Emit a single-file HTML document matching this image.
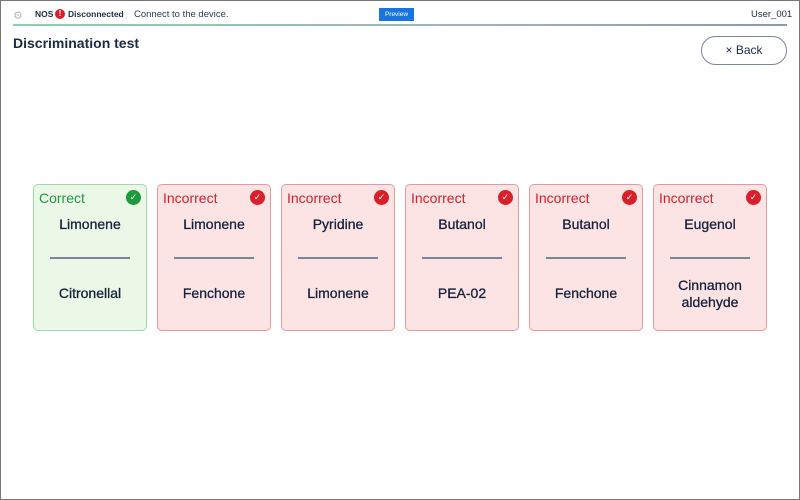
<!DOCTYPE html>
<html><head><meta charset="utf-8"><style>
*{margin:0;padding:0;box-sizing:border-box}
body{width:800px;height:500px;background:#fff;font-family:"Liberation Sans",sans-serif;position:relative;overflow:hidden;color:#1c2b45}
.frame{position:absolute;left:0;top:0;width:800px;height:500px;border:1px solid #777}
.hdr{position:absolute;left:13px;top:24px;width:774px;height:2px;background:linear-gradient(90deg,#8fd0a8,#9fb3b8 60%,#8a9aa8)}
.t{position:absolute;white-space:nowrap}
.card{position:absolute;top:184px;width:114px;height:147px;border-radius:5px;border:1px solid #e39a9a;background:#fde4e4}
.card.ok{border-color:#9ed8a8;background:#ebf7e7}
.card .h{position:absolute;left:5px;top:5px;font-size:14px;color:#d2222a}
.card.ok .h{color:#1e9a3e}
.card .ic{position:absolute;right:5px;top:5px;width:15px;height:15px;border-radius:50%;background:#d8202a;color:#fff;font-size:9px;text-align:center;line-height:15px}
.card.ok .ic{background:#1e9a3e}
.card .a{position:absolute;left:0;right:0;top:31px;text-align:center;font-size:14px;color:#14223c;-webkit-text-stroke:0.3px #14223c}
.card .ln{position:absolute;left:16px;right:16px;top:72px;height:2px;background:#7a8799}
.card .b{position:absolute;left:0;right:0;top:100px;text-align:center;font-size:14px;line-height:17px;color:#14223c;-webkit-text-stroke:0.3px #14223c}
</style></head><body>
<div class="frame"></div>
<div class="t" style="left:13px;top:9px;font-size:11px;color:#bbb">⚙</div>
<div class="t" style="left:35px;top:9px;font-size:8.5px;font-weight:bold">NOS</div>
<div class="t" style="left:55px;top:9px;width:10px;height:10px;border-radius:50%;background:#d8202a;color:#fff;font-size:8px;text-align:center;line-height:10px;font-weight:bold">!</div>
<div class="t" style="left:68px;top:9px;font-size:8.5px;font-weight:bold">Disconnected</div>
<div class="t" style="left:125px;top:9px;font-size:9px;color:#ddd">|</div>
<div class="t" style="left:134px;top:9px;font-size:9.5px;color:#2a3a55">Connect to the device.</div>
<div class="t" style="left:379px;top:8px;width:35px;height:13px;background:#1a74e0;color:#fff;font-size:6.5px;text-align:center;line-height:13px">Preview</div>
<div class="t" style="left:751px;top:9px;font-size:9.5px">User_001</div>
<div class="hdr"></div>
<div class="t" style="left:13px;top:35px;font-size:14px;font-weight:bold">Discrimination test</div>
<div class="t" style="left:701px;top:36px;width:86px;height:29px;border:1px solid #7a8799;border-radius:15px;text-align:center;line-height:27px;font-size:12px">× Back</div>

<div class="card ok" style="left:33px"><div class="h">Correct</div><div class="ic">✓</div><div class="a">Limonene</div><div class="ln"></div><div class="b">Citronellal</div></div>
<div class="card" style="left:157px"><div class="h">Incorrect</div><div class="ic">✓</div><div class="a">Limonene</div><div class="ln"></div><div class="b">Fenchone</div></div>
<div class="card" style="left:281px"><div class="h">Incorrect</div><div class="ic">✓</div><div class="a">Pyridine</div><div class="ln"></div><div class="b">Limonene</div></div>
<div class="card" style="left:405px"><div class="h">Incorrect</div><div class="ic">✓</div><div class="a">Butanol</div><div class="ln"></div><div class="b">PEA-02</div></div>
<div class="card" style="left:529px"><div class="h">Incorrect</div><div class="ic">✓</div><div class="a">Butanol</div><div class="ln"></div><div class="b">Fenchone</div></div>
<div class="card" style="left:653px"><div class="h">Incorrect</div><div class="ic">✓</div><div class="a">Eugenol</div><div class="ln"></div><div class="b" style="top:92px">Cinnamon<br>aldehyde</div></div>
</body></html>
